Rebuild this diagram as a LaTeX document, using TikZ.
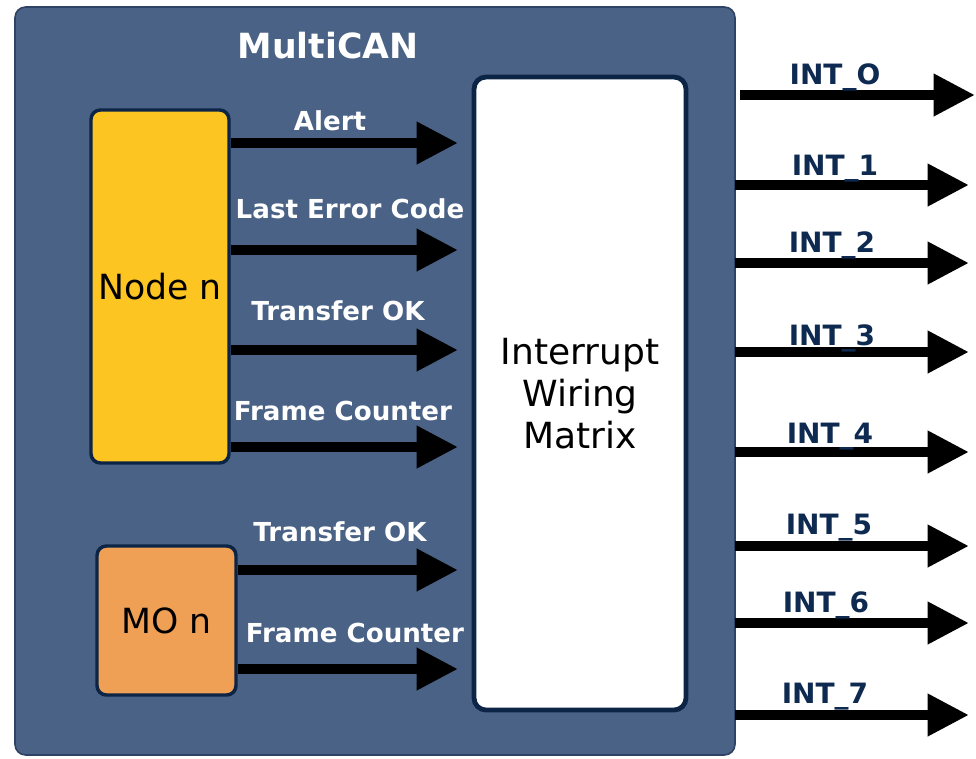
\documentclass[tikz,border=0pt]{standalone}
\usepackage{fontspec}
\setmainfont{DejaVu Sans}
\usetikzlibrary{arrows.meta}

\definecolor{canfill}{HTML}{4A6285}
\definecolor{canline}{HTML}{2E4263}
\definecolor{boxline}{HTML}{0C2446}
\definecolor{nodeyellow}{HTML}{FCC521}
\definecolor{moorange}{HTML}{F0A055}
\definecolor{intnavy}{HTML}{0E2A50}

\begin{document}
\begin{tikzpicture}[
  x=0.75pt,y=-0.75pt,
  >={Triangle[length=31pt,width=30pt]},
  sig/.style={->,line width=7.5pt},
  blk/.style={draw=boxline,line width=2.6pt,rounded corners=7pt,inner sep=0pt},
  lbl/.style={anchor=base,text=white,font=\bfseries\fontsize{19.6}{23}\selectfont},
  intlbl/.style={anchor=base,text=intnavy,font=\bfseries\fontsize{21}{25}\selectfont}
]
  \useasboundingbox (0,0) rectangle (976,758);
  % MultiCAN module
  \draw[fill=canfill,draw=canline,line width=1.2pt,rounded corners=8pt]
    (15,7) rectangle (735,755);
  \node[anchor=base,text=white,font=\bfseries\fontsize{26}{30}\selectfont](title) at (328,58){MultiCAN};

  \node[blk,fill=nodeyellow,minimum width=103.5pt,minimum height=264.75pt,
    font=\fontsize{26}{30}\selectfont](s1) at (160,286.5){Node n};
  \node[blk,fill=moorange,minimum width=104.25pt,minimum height=111.75pt,
    font=\fontsize{26}{30}\selectfont](s2) at (166.5,620.5){MO n};
  \node[blk,fill=white,line width=3.6pt,rounded corners=9pt,minimum width=159pt,minimum height=474.75pt,
    align=center,font=\fontsize{27}{31.5}\selectfont](iwm) at (580,393.5){Interrupt\\Wiring\\Matrix};

  % inputs
  \coordinate (i1) at (458,143);
  \coordinate (i2) at (458,250);
  \coordinate (i3) at (458,350);
  \coordinate (i4) at (458,447);
  \coordinate (i5) at (458,570);
  \coordinate (i6) at (458,669);
  \draw[sig] (s1.east |- i1) -- (i1);
  \draw[sig] (s1.east |- i2) -- (i2);
  \draw[sig] (s1.east |- i3) -- (i3);
  \draw[sig] (s1.east |- i4) -- (i4);
  \draw[sig] (s2.east |- i5) -- (i5);
  \draw[sig] (s2.east |- i6) -- (i6);
  \node[lbl](l1) at (330,130){Alert};
  \node[lbl](l2) at (350,218){Last Error Code};
  \node[lbl](l3) at (338,320){Transfer OK};
  \node[lbl](l4) at (343,420){Frame Counter};
  \node[lbl](l5) at (340,541){Transfer OK};
  \node[lbl](l6) at (355,642){Frame Counter};

  % outputs
  \coordinate (o0a) at (740,95);  \coordinate (o0b) at (975,95);
  \coordinate (o1a) at (735,185); \coordinate (o1b) at (969,185);
  \coordinate (o2a) at (735,263); \coordinate (o2b) at (969,263);
  \coordinate (o3a) at (735,352); \coordinate (o3b) at (969,352);
  \coordinate (o4a) at (735,452); \coordinate (o4b) at (969,452);
  \coordinate (o5a) at (735,546); \coordinate (o5b) at (969,546);
  \coordinate (o6a) at (735,623); \coordinate (o6b) at (969,623);
  \coordinate (o7a) at (735,715); \coordinate (o7b) at (969,715);
  \draw[sig] (o0a) -- (o0b);
  \draw[sig] (o1a) -- (o1b);
  \draw[sig] (o2a) -- (o2b);
  \draw[sig] (o3a) -- (o3b);
  \draw[sig] (o4a) -- (o4b);
  \draw[sig] (o5a) -- (o5b);
  \draw[sig] (o6a) -- (o6b);
  \draw[sig] (o7a) -- (o7b);
  \node[intlbl](n0) at (835,84){INT\_O};
  \node[intlbl](n1) at (835,175){INT\_1};
  \node[intlbl](n2) at (832,252){INT\_2};
  \node[intlbl](n3) at (832,345){INT\_3};
  \node[intlbl](n4) at (830,443){INT\_4};
  \node[intlbl](n5) at (829,534){INT\_5};
  \node[intlbl](n6) at (826,612){INT\_6};
  \node[intlbl](n7) at (825,703){INT\_7};
\end{tikzpicture}
\end{document}
